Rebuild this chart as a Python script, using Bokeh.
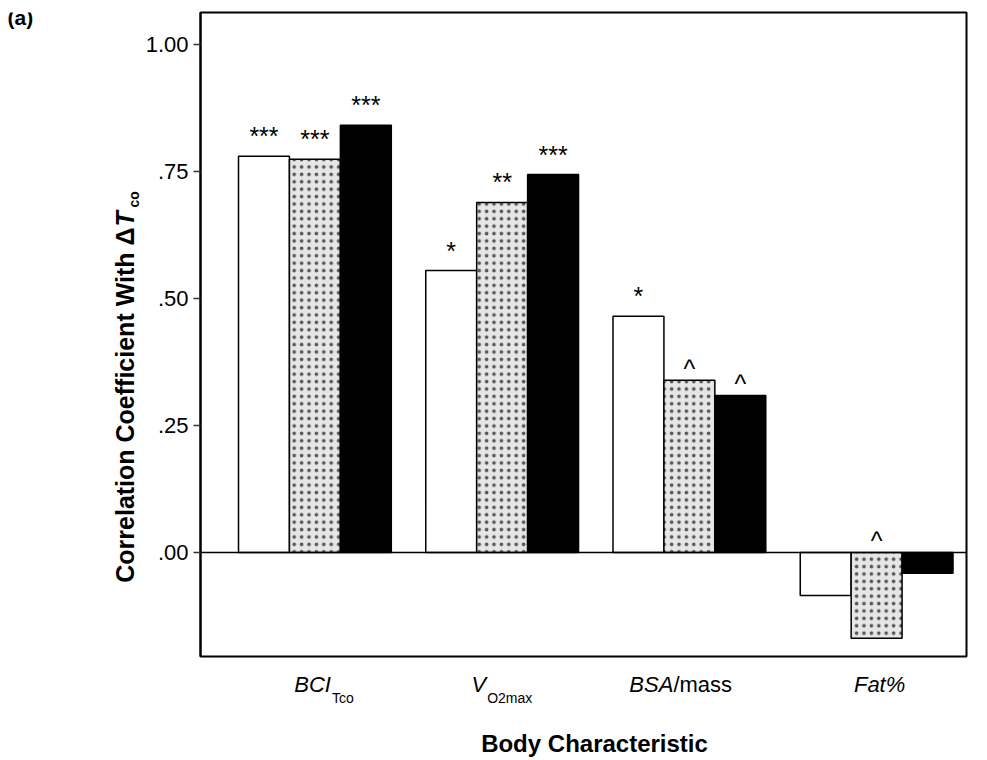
import math
from bokeh.plotting import figure
from bokeh.layouts import row, column
from bokeh.models import ColumnDataSource, FixedTicker, Span, Range1d
from bokeh.core.properties import value
from bokeh.embed import file_html
from bokeh.resources import INLINE

# ---------------- data ----------------
groups = [0, 1, 2, 3]
white_vals = [0.780, 0.555, 0.465, -0.085]
dotted_vals = [0.774, 0.689, 0.339, -0.169]
black_vals = [0.841, 0.744, 0.309, -0.041]
white_sig = ["***", "*", "*", ""]
dotted_sig = ["***", "**", "^", "^"]
black_sig = ["***", "***", "^", ""]
y_ticks = [0.0, 0.25, 0.5, 0.75, 1.0]
y_tick_labels = [".00", ".25", ".50", ".75", "1.00"]
cat_main = ["BCI", "V", "BSA", "Fat%"]
cat_sub = ["Tco", "O2max", "", ""]
cat_tail = ["", "", "/mass", ""]
x_title = "Body Characteristic"
y_title_main = "Correlation Coefficient With \u0394"
y_title_var = "T"
y_title_sub = "co"
panel_tag = "(a)"

# ---------------- layout ----------------
FONT = "Liberation Sans"
X_START, X_END = -0.611, 3.48
Y_START, Y_END = -0.205, 1.063
FW, FH = 766, 644
LEFT_W = 142
BL, BT, BR, BB = 58, 12, 21, 4
BOTTOM_H = 100
PXX = FW / (X_END - X_START)
BAR_W = 0.272
junction_px = [16, -16, -16, 3]
STAR_OFFSET = -20
CARET_OFFSET = -11
LEFT_SHIFT = 13          # the left strip renders this many px lower than its range says
X_TITLE_SHIFT = 11       # px right of the frame centre

x_range = Range1d(X_START, X_END)

p = figure(frame_width=FW, frame_height=FH,
           x_range=x_range, y_range=(Y_START, Y_END),
           output_backend="svg", toolbar_location=None,
           min_border_left=BL, min_border_top=BT,
           min_border_right=BR, min_border_bottom=BB)
p.background_fill_color = "white"
p.border_fill_color = "white"
p.xaxis.visible = False
p.xgrid.visible = False
p.ygrid.visible = False
p.outline_line_color = "black"
p.outline_line_width = 2

yax = p.yaxis[0]
yax.ticker = FixedTicker(ticks=y_ticks)
yax.major_label_overrides = {t: l for t, l in zip(y_ticks, y_tick_labels)}
yax.minor_tick_line_color = None
yax.major_tick_out = 7
yax.major_tick_in = 0
yax.major_tick_line_width = 1.5
yax.major_tick_line_color = "#333333"
yax.axis_line_width = 2
yax.axis_line_color = "black"
yax.major_label_standoff = 5
yax.major_label_text_font = FONT
yax.major_label_text_font_size = "22px"
yax.major_label_text_color = "black"

offsets = [-BAR_W, 0.0, BAR_W]
series = [
    (white_vals, white_sig, dict(fill_color="white", line_color="black", line_width=1.5)),
    (dotted_vals, dotted_sig, dict(fill_color="#e6e6e6", line_color="black", line_width=1.5,
                                   hatch_pattern="dot", hatch_color="#333333",
                                   hatch_scale=7.4, hatch_weight=1.0, hatch_alpha=0.8)),
    (black_vals, black_sig, dict(fill_color="black", line_color="black", line_width=1.5)),
]

for (vals, sig, style), off in zip(series, offsets):
    src = ColumnDataSource(dict(x=[g + off for g in groups], top=vals))
    p.vbar(x="x", top="top", bottom=0, width=BAR_W, source=src, **style)

p.add_layout(Span(location=0, dimension="width", line_color="black", line_width=1.5))

for (vals, sig, style), off in zip(series, offsets):
    src = ColumnDataSource(dict(
        x=[g + off for g in groups],
        ty=[max(v, 0.0) for v in vals],
        sig=sig,
        yo=[STAR_OFFSET if "*" in s else CARET_OFFSET for s in sig]))
    p.text(x="x", y="ty", text="sig", source=src, text_align="center",
           text_baseline="alphabetic", y_offset="yo",
           text_font=value(FONT), text_font_size="25px", text_color="black")


def text_fig(width, height, xr, yr, min_left=0, min_right=0, frame_width=None):
    f = figure(frame_width=frame_width or width, frame_height=height,
               x_range=xr, y_range=yr, output_backend="svg", toolbar_location=None,
               x_axis_location=None, y_axis_location=None, title=None,
               min_border_left=min_left, min_border_right=min_right,
               min_border_top=0, min_border_bottom=0)
    f.outline_line_color = None
    f.background_fill_color = "white"
    f.border_fill_color = "white"
    f.xgrid.visible = False
    f.ygrid.visible = False
    return f


TXT = dict(text_font=value(FONT), text_color="black", text_baseline="middle")

# ---------------- left strip: y title and panel tag ----------------
LEFT_H = BT + FH + BB
left = text_fig(LEFT_W, LEFT_H, Range1d(0, LEFT_W),
                Range1d(LEFT_H + LEFT_SHIFT, LEFT_SHIFT))
left.text(x=[124], y=[228], text=[y_title_main], angle=math.pi / 2,
          text_align="right", text_font_size="25px", text_font_style="bold", **TXT)
left.text(x=[124], y=[227], text=[y_title_var], angle=math.pi / 2,
          text_align="left", text_font_size="25px", text_font_style="bold italic", **TXT)
left.text(x=[133], y=[208], text=[y_title_sub], angle=math.pi / 2,
          text_align="left", text_font_size="14px", text_font_style="bold", **TXT)
left.text(x=[7], y=[18], text=[panel_tag], text_align="left",
          text_font_size="21px", text_font_style="bold", **TXT)

# ---------------- bottom strip: category labels and x title ----------------
TOP_Y = LEFT_H
bottom = text_fig(LEFT_W + BL + FW + BR, BOTTOM_H, x_range,
                  Range1d(TOP_Y + BOTTOM_H, TOP_Y),
                  min_left=LEFT_W + BL, min_right=BR, frame_width=FW)

jx = [g + jp / PXX for g, jp in zip(groups, junction_px)]
has_rest = [bool(s or t) for s, t in zip(cat_sub, cat_tail)]
main_src = ColumnDataSource(dict(
    x=jx, y=[684] * len(groups), text=cat_main,
    align=["right" if h else "center" for h in has_rest]))
bottom.text(x="x", y="y", text="text", text_align="align", source=main_src,
            text_font_size="22px", text_font_style="italic", **TXT)
sub_src = ColumnDataSource(dict(x=[x + 1 / PXX for x in jx], y=[697] * len(groups), text=cat_sub))
bottom.text(x="x", y="y", text="text", source=sub_src, text_align="left",
            text_font_size="14px", **TXT)
tail_src = ColumnDataSource(dict(x=jx, y=[684] * len(groups), text=cat_tail))
bottom.text(x="x", y="y", text="text", source=tail_src, text_align="left",
            text_font_size="22px", **TXT)
bottom.text(x=[(X_START + X_END) / 2 + X_TITLE_SHIFT / PXX], y=[743], text=[x_title],
            text_align="center", text_font_size="24px", text_font_style="bold", **TXT)

layout = column(row(left, p, spacing=0), bottom, spacing=0)

open("out.html", "w").write(file_html(layout, INLINE))
